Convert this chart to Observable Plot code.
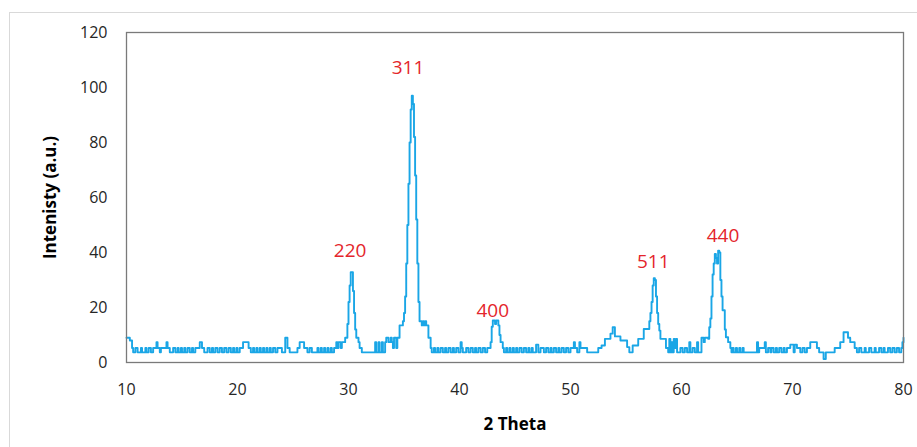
<!DOCTYPE html>
<html><head><meta charset="utf-8">
<script src="https://cdn.jsdelivr.net/npm/d3@7"></script>
<script src="https://cdn.jsdelivr.net/npm/@observablehq/plot@0.6"></script>
<style>
body{margin:0;background:#fff;}
#wrap{position:relative;width:917px;height:447px;overflow:hidden;background:#fff;}
#border{position:absolute;left:9px;top:12px;width:940px;height:460px;border:1px solid #d9d9d9;box-sizing:border-box;}
#chart{position:absolute;left:0;top:0;}
</style></head><body>
<div id="wrap"><div id="border"></div><div id="chart"></div></div>
<script>
const theta = [
10.0,10.3,10.5,10.6,10.8,11.0,11.3,11.4,11.7,11.8,
12.0,12.2,12.4,12.7,12.8,13.0,13.1,13.6,13.7,13.9,
14.2,14.4,14.6,14.7,14.9,15.0,15.2,15.3,15.5,15.7,
15.9,16.0,16.2,16.6,16.8,17.0,17.3,17.5,17.7,17.8,
18.0,18.2,18.4,18.6,18.8,19.0,19.2,19.4,19.6,19.7,
19.9,20.0,20.2,20.5,21.0,21.2,21.4,21.5,21.7,21.8,
22.0,22.1,22.3,22.4,22.6,22.7,22.9,23.0,23.2,23.4,
23.6,24.0,24.3,24.5,24.7,25.4,25.6,26.0,26.3,26.5,
26.7,27.2,27.3,27.5,27.6,27.8,27.9,28.1,28.2,28.4,
28.5,28.7,28.9,29.0,29.1,29.3,29.4,29.7,29.9,30.0,
30.1,30.2,30.4,30.5,30.6,30.7,30.9,31.0,31.2,32.4,
32.5,32.7,32.8,33.0,33.1,33.3,33.4,33.6,
33.8,33.9,34.0,34.1,34.3,34.4,34.6,34.9,35.0,35.1,
35.2,35.3,35.4,35.5,35.6,35.7,35.8,35.9,36.0,36.1,
36.2,36.3,36.4,36.6,36.7,36.8,36.9,37.0,37.2,37.4,
37.5,37.7,37.8,38.0,38.1,38.3,38.5,38.7,38.8,39.0,
39.2,39.4,39.5,39.7,39.9,40.1,40.2,40.3,40.6,40.8,
41.0,41.2,41.4,41.5,41.7,41.9,42.1,42.3,42.5,42.8,
42.9,43.0,43.2,43.3,43.5,43.6,43.7,43.9,44.0,44.2,
44.3,44.5,44.6,44.8,44.9,45.1,45.2,45.4,45.6,45.8,
46.0,46.2,46.3,46.5,46.6,46.9,47.1,47.3,47.6,47.8,
48.0,48.2,48.3,48.5,48.7,48.9,49.0,49.2,49.4,49.6,
49.8,50.0,50.3,50.4,50.6,50.8,50.9,51.5,52.5,52.8,
53.1,53.6,53.8,54.0,54.5,55.1,55.3,55.6,56.1,56.6,
57.1,57.2,57.3,57.4,57.5,57.6,57.7,57.8,57.9,58.0,
58.1,58.6,58.8,58.9,59.0,59.1,59.2,59.3,59.4,59.5,
59.6,59.9,60.1,60.3,60.5,60.7,60.8,61.0,61.2,61.4,
61.5,61.8,62.0,62.1,62.4,62.5,62.6,62.7,62.8,62.9,
63.0,63.1,63.2,63.3,63.4,63.5,63.6,63.7,63.9,64.0,
64.2,64.4,64.5,64.6,64.7,64.9,65.0,65.2,65.3,65.5,
65.6,66.8,66.9,67.0,67.5,67.6,67.8,68.0,68.1,68.3,
68.5,68.6,68.8,69.0,69.2,69.3,69.5,69.8,70.1,70.2,
70.4,70.7,70.9,71.1,71.3,71.6,72.2,72.4,72.8,73.0,
73.8,74.3,74.6,75.0,75.2,75.6,75.8,76.0,76.2,76.5,
76.6,76.9,77.1,77.4,77.5,77.8,78.0,78.2,78.3,78.6,
78.8,79.0,79.2,79.4,79.6,79.8,79.9,80.0
];
const intensity = [
9,8,5.3,3.7,5.3,3.7,5.3,3.7,5.3,3.7,
5.3,3.7,5.3,7.4,5.3,3.7,5.3,7.4,5.3,3.7,
5.3,3.7,5.3,3.7,5.3,3.7,5.3,3.7,5.3,3.7,
5.3,3.7,5.3,7.4,5.3,3.7,5.3,3.7,5.3,3.7,
5.3,3.7,5.3,3.7,5.3,3.7,5.3,3.7,5.3,3.7,
5.3,3.7,5.3,7.4,5.3,3.7,5.3,3.7,5.3,3.7,
5.3,3.7,5.3,3.7,5.3,3.7,5.3,3.7,5.3,3.7,
5.3,3.7,9,5.3,3.7,5.3,7.4,5.3,3.7,5.3,
3.7,5.3,3.7,5.3,3.7,5.3,3.7,5.3,3.7,5.3,
3.7,5.3,7.4,5.3,7.4,5.3,7.4,9,14,22,
28,32.8,26,18,12,9,7.4,5.3,3.7,7.4,
3.7,7.4,3.7,7.4,3.7,7.4,9,7.4,
9,7.4,5.3,9,5.3,9,13.5,15,18,24,
36,50,65,80,92,97,94,82,68,52,
36,22,15,13.5,15,13.5,15,13.5,9,5.3,
3.7,5.3,3.7,5.3,3.7,5.3,3.7,5.3,3.7,5.3,
3.7,5.3,3.7,5.3,3.7,7.4,5.3,3.7,5.3,3.7,
5.3,3.7,5.3,3.7,5.3,3.7,5.3,3.7,5.3,7.4,
13,15.3,14,15.3,13.5,10,7.4,5.3,3.7,5.3,
3.7,5.3,3.7,5.3,3.7,5.3,3.7,5.3,3.7,5.3,
3.7,5.3,3.7,5.3,3.7,6.5,3.7,5.3,3.7,5.3,
3.7,5.3,3.7,5.3,3.7,5.3,3.7,5.3,3.7,5.3,
3.7,5.3,7.4,5.3,3.7,7.4,5.3,3.7,5.3,6.2,
8.6,10.5,12.8,9.5,8,5.6,3.7,6.2,8.6,12.2,
15,18,22,28,30.7,30,24,18,14,11.6,
8.6,5.3,3.7,8.6,3.7,7.4,3.7,8.6,5.3,8.6,
3.7,5.3,3.7,5.3,3.7,7.4,3.7,5.3,3.7,7.4,
3.7,9,7.4,9,8.6,12.8,16,24,32,36,
39.5,38,36,40.7,40,30,24,19,12,9.2,
7.4,5.3,3.7,5.3,3.7,5.3,3.7,5.3,3.7,5.3,
3.7,7.4,3.7,5.3,7.4,3.7,5.3,3.7,5.3,3.7,
5.3,3.7,5.3,3.7,5.3,3.7,5.3,6.5,3.7,6.5,
5.3,3.7,5.3,3.7,5.3,7.4,5.3,3.7,1.3,3.7,
5.3,7.4,11,9,7.4,5.3,3.7,5.3,3.7,5.3,
3.7,5.3,3.7,5.3,3.7,5.3,3.7,5.3,3.7,5.3,
3.7,5.3,3.7,5.3,3.7,5.3,7.4,9
];
const peakLabels = ["220", "311", "400", "511", "440"];
const peakLabelTheta = [30.15, 35.36, 43.0, 57.45, 63.74];
const peakLabelIntensity = [40.7, 107.3, 18.9, 36.7, 46.2];
const xTicks = [10, 20, 30, 40, 50, 60, 70, 80];
const yTicks = [0, 20, 40, 60, 80, 100, 120];
const xTitle = "2 Theta";
const yTitle = "Intenisty (a.u.)";

const series = theta.map((t, i) => ({theta: t, intensity: intensity[i]}));
const labels = peakLabels.map((l, i) => ({label: l, theta: peakLabelTheta[i], intensity: peakLabelIntensity[i]}));

const chart = Plot.plot({
  width: 917, height: 447,
  marginLeft: 126, marginRight: 14, marginTop: 32, marginBottom: 85,
  style: {fontFamily: "'Open Sans', sans-serif", fontSize: "16px", background: "transparent", overflow: "visible"},
  x: {domain: [10, 80]},
  y: {domain: [0, 120]},
  marks: [
    Plot.axisX({ticks: xTicks, tickSize: 0, tickPadding: 21, fontSize: 16, label: null, fill: "#262626"}),
    Plot.axisY({ticks: yTicks, tickSize: 0, tickPadding: 19, fontSize: 16, label: null, fill: "#262626"}),
    Plot.line(series, {x: "theta", y: "intensity", curve: "step-after", stroke: "#1aa6e6", strokeWidth: 1.9}),
    Plot.frame({stroke: "#7a7a7a", strokeWidth: 1.3}),
    Plot.text(labels, {x: "theta", y: "intensity", text: "label", fill: "#e4252b", fontSize: 19}),
    Plot.text([xTitle], {frameAnchor: "bottom", dy: 62, lineAnchor: "middle", textAnchor: "middle", fontWeight: "bold", fontSize: 17, fill: "#000"}),
    Plot.text([yTitle], {frameAnchor: "left", dx: -76, rotate: -90, textAnchor: "middle", lineAnchor: "middle", fontWeight: "bold", fontSize: 17, fill: "#000"})
  ]
});
document.getElementById("chart").appendChild(chart);
</script>
</body></html>
